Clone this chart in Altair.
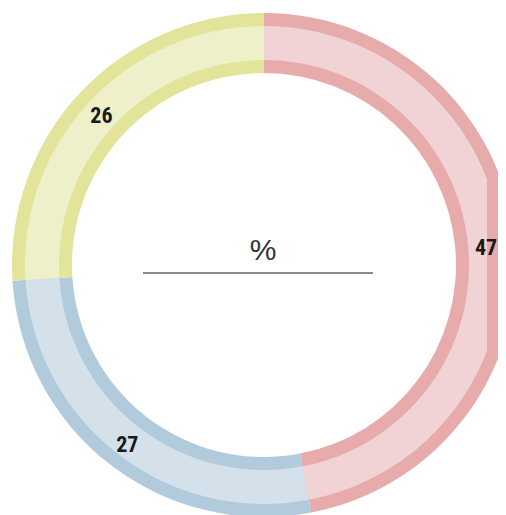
import altair as alt
import pandas as pd

categories = ["A", "B", "C"]
values = [47, 27, 26]
labels = ["47", "27", "26"]
order = [0, 1, 2]
dark_colors = ["#e7abac", "#b1cadc", "#e2e49a"]
light_colors = ["#f2d3d5", "#d4e1eb", "#eef0c9"]

df = pd.DataFrame({"cat": categories, "cat2": categories, "value": values, "label": labels, "ord": order})

cx, cy = 256, 257

base = alt.Chart(df).encode(
    theta=alt.Theta("value:Q", stack=True),
    order=alt.Order("ord:Q"),
    x=alt.value(cx),
    y=alt.value(cy),
)

dark = base.mark_arc(radius=252, radius2=192).encode(
    color=alt.Color("cat:N", scale=alt.Scale(domain=categories, range=dark_colors), legend=None)
)
light = base.mark_arc(radius=239, radius2=205, clip=True).encode(
    color=alt.Color("cat2:N", scale=alt.Scale(domain=categories, range=light_colors), legend=None)
)
text = base.mark_text(
    radius=223, dy=4, font="Roboto Condensed, Liberation Sans Narrow, Roboto", fontWeight="bold",
    fontSize=22, color="#1a1a1a", baseline="middle", align="center"
).encode(text="label:N")

center_df = pd.DataFrame({"t": ["%"]})
pct = alt.Chart(center_df).mark_text(
    fontSize=30, font="Liberation Sans", color="#333333", baseline="middle", align="center"
).encode(text="t:N", x=alt.value(cx - 1), y=alt.value(cy - 14))

line = alt.Chart(center_df).mark_rule(color="#8a8a8a", strokeWidth=2).encode(
    x=alt.value(cx - 121), x2=alt.value(cx + 109), y=alt.value(cy + 8)
)

chart = alt.layer(dark, light, text, pct, line).resolve_scale(color="independent").properties(
    width=479, height=507, autosize=alt.AutoSizeParams(type="none"),
    padding={"left": 0, "top": 0, "right": 11, "bottom": 0}
).configure_view(stroke=None)

chart.save("out.html", embed_options={"renderer": "svg", "actions": False})
